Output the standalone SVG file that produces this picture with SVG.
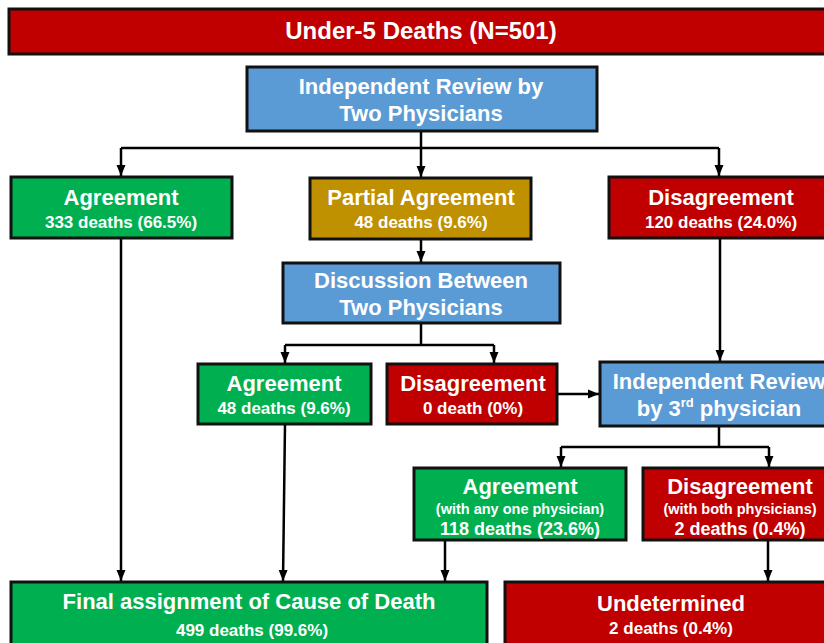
<svg xmlns="http://www.w3.org/2000/svg" width="824" height="643" viewBox="0 0 824 643">
<style>
.box{stroke:#111;stroke-width:3}
.red{fill:#C00000}.grn{fill:#00B050}.blu{fill:#5B9BD5}.gld{fill:#BF9000}
text{font-family:"Liberation Sans",Arial,sans-serif;font-weight:bold;fill:#fff;text-anchor:middle}
.t{font-size:22px}.s{font-size:17px}.x{font-size:14.5px}.m{font-size:18px}
.c{fill:none;stroke:#000;stroke-width:2.5}
</style>
<defs>
<marker id="a" markerUnits="userSpaceOnUse" markerWidth="12" markerHeight="12" viewBox="0 0 12 12" refX="11" refY="6" orient="auto">
<path d="M0,1.5 L11,6 L0,10.5 Z" fill="#000"/>
</marker>
</defs>
<rect width="824" height="643" fill="#fff"/>
<g id="connectors">
<path class="c" d="M421,131 V148"/>
<path class="c" d="M121,148 H719"/>
<path class="c" d="M121,148 V176" marker-end="url(#a)"/>
<path class="c" d="M421,148 V177" marker-end="url(#a)"/>
<path class="c" d="M719,148 V176" marker-end="url(#a)"/>
<path class="c" d="M421,239 V262" marker-end="url(#a)"/>
<path class="c" d="M421,323 V345"/>
<path class="c" d="M285,345 H494"/>
<path class="c" d="M285,345 V363" marker-end="url(#a)"/>
<path class="c" d="M494,345 V363" marker-end="url(#a)"/>
<path class="c" d="M557,394 H599" marker-end="url(#a)"/>
<path class="c" d="M720,238 V361" marker-end="url(#a)"/>
<path class="c" d="M719,426 V447"/>
<path class="c" d="M561,447 H769"/>
<path class="c" d="M561,447 V467" marker-end="url(#a)"/>
<path class="c" d="M769,447 V467" marker-end="url(#a)"/>
<path class="c" d="M121,238 V581" marker-end="url(#a)"/>
<path class="c" d="M285,424 L283,581" marker-end="url(#a)"/>
<path class="c" d="M445,540 V581" marker-end="url(#a)"/>
<path class="c" d="M768,540 V581" marker-end="url(#a)"/>
</g>
<g id="n-top">
<rect class="box red" x="9" y="9" width="830" height="45"/>
<text class="t" x="421" y="39" style="font-size:24px">Under-5 Deaths (N=501)</text>
</g>
<g id="n-review">
<rect class="box blu" x="247" y="67" width="350" height="64"/>
<text class="t" x="421" y="94">Independent Review by</text>
<text class="t" x="421" y="121">Two Physicians</text>
</g>
<g id="n-agree1">
<rect class="box grn" x="11" y="177" width="221" height="61"/>
<text class="t" x="121" y="205">Agreement</text>
<text class="s" x="121" y="228">333 deaths (66.5%)</text>
</g>
<g id="n-partial">
<rect class="box gld" x="310" y="178" width="221" height="61"/>
<text class="t" x="421" y="205">Partial Agreement</text>
<text class="s" x="421" y="228">48 deaths (9.6%)</text>
</g>
<g id="n-disagree1">
<rect class="box red" x="609" y="177" width="230" height="61"/>
<text class="t" x="721" y="205">Disagreement</text>
<text class="s" x="721" y="228">120 deaths (24.0%)</text>
</g>
<g id="n-discussion">
<rect class="box blu" x="283" y="263" width="277" height="60"/>
<text class="t" x="421" y="288">Discussion Between</text>
<text class="t" x="421" y="315">Two Physicians</text>
</g>
<g id="n-agree2">
<rect class="box grn" x="198" y="364" width="173" height="60"/>
<text class="t" x="284" y="391">Agreement</text>
<text class="s" x="284" y="414">48 deaths (9.6%)</text>
</g>
<g id="n-disagree2">
<rect class="box red" x="387" y="364" width="170" height="60"/>
<text class="t" x="473" y="391">Disagreement</text>
<text class="s" x="473" y="414">0 death (0%)</text>
</g>
<g id="n-review3">
<rect class="box blu" x="600" y="362" width="240" height="64"/>
<text class="t" x="719" y="389">Independent Review</text>
<text class="t" x="719" y="416">by 3<tspan style="font-size:13px" dy="-9">rd</tspan><tspan dy="9"> physician</tspan></text>
</g>
<g id="n-agree3">
<rect class="box grn" x="414" y="468" width="212" height="72"/>
<text class="t" x="520" y="494">Agreement</text>
<text class="x" x="520" y="514">(with any one physician)</text>
<text class="m" x="520" y="535">118 deaths (23.6%)</text>
</g>
<g id="n-disagree3">
<rect class="box red" x="643" y="468" width="195" height="72"/>
<text class="t" x="740" y="494">Disagreement</text>
<text class="x" x="740" y="514">(with both physicians)</text>
<text class="m" x="740" y="535">2 deaths (0.4%)</text>
</g>
<g id="n-final">
<rect class="box grn" x="11" y="582" width="476" height="66"/>
<text class="t" x="249" y="609">Final assignment of Cause of Death</text>
<text class="s" x="252" y="636">499 deaths (99.6%)</text>
</g>
<g id="n-undetermined">
<rect class="box red" x="505" y="582" width="335" height="66"/>
<text class="t" x="671" y="611">Undetermined</text>
<text class="s" x="671" y="634">2 deaths (0.4%)</text>
</g>
</svg>
